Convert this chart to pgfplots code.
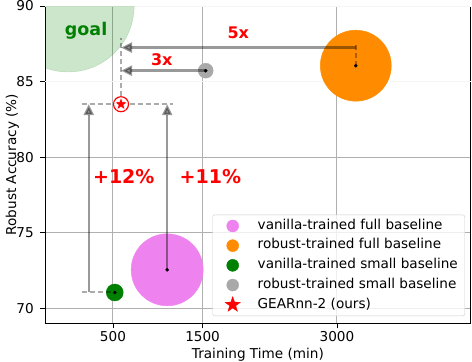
\documentclass[border=0pt]{standalone}
\usepackage{fontspec}
\setmainfont{DejaVu Sans}
\usepackage{pgfplots}
\pgfplotsset{compat=1.18}
\usetikzlibrary{arrows.meta}

\definecolor{cviolet}{HTML}{EE82EE}
\definecolor{corange}{HTML}{FF8C00}
\definecolor{cgreen}{HTML}{008000}
\definecolor{cgray}{HTML}{A9A9A9}
\definecolor{cgrid}{HTML}{B0B0B0}

% filled five-point star
\pgfdeclareplotmark{fstar}{%
  \pgfpathmoveto{\pgfpointpolar{90}{\pgfplotmarksize}}%
  \pgfpathlineto{\pgfpointpolar{126}{0.4*\pgfplotmarksize}}%
  \pgfpathlineto{\pgfpointpolar{162}{\pgfplotmarksize}}%
  \pgfpathlineto{\pgfpointpolar{198}{0.4*\pgfplotmarksize}}%
  \pgfpathlineto{\pgfpointpolar{234}{\pgfplotmarksize}}%
  \pgfpathlineto{\pgfpointpolar{270}{0.4*\pgfplotmarksize}}%
  \pgfpathlineto{\pgfpointpolar{306}{\pgfplotmarksize}}%
  \pgfpathlineto{\pgfpointpolar{342}{0.4*\pgfplotmarksize}}%
  \pgfpathlineto{\pgfpointpolar{18}{\pgfplotmarksize}}%
  \pgfpathlineto{\pgfpointpolar{54}{0.4*\pgfplotmarksize}}%
  \pgfpathclose
  \pgfusepathqfillstroke}

\newcommand{\fs}{\fontsize{13.6}{16}\selectfont}

\tikzset{
  arr/.style={black, opacity=0.4, line width=2.5pt, -{Triangle[length=11pt,width=10pt]}},
  dsh/.style={black, opacity=0.33, line width=2pt, dash pattern=on 5pt off 3pt},
}

\begin{document}
\begin{tikzpicture}
\begin{axis}[
    scale only axis,
    width=425.2pt, height=317.3pt,
    xmin=-255, xmax=4490, ymin=69, ymax=90,
    xtick={500,1500,3000},
    ytick={70,75,80},
    extra y ticks={85,90},
    extra y tick style={grid style={cgrid!12, line width=1pt}},
    grid=major,
    grid style={cgrid, line width=1pt},
    tick align=outside,
    xtick pos=lower, ytick pos=left,
    major tick length=5pt,
    tick style={black, line width=0.9pt},
    axis line style={line width=1pt},
    clip marker paths=true,
    /pgf/number format/assume math mode=true,
    /pgf/number format/1000 sep={},
    tick label style={font=\fs},
    yticklabel style={xshift=-3pt},
    xlabel={Training Time (min)},
    ylabel={Robust Accuracy (\%)},
    every axis x label/.style={at={(axis description cs:0.5,0)}, anchor=center, yshift=-31pt, font=\fs},
    every axis y label/.style={at={(axis description cs:0,0.5)}, xshift=-33pt, rotate=90, anchor=center, font=\fs},
    legend cell align=left,
    legend image code/.code={%
        \path[draw=none, fill=none] (-16pt,-6pt) rectangle (17pt,6pt);
        \draw[mark repeat=2, mark phase=2, #1, opacity=1, fill opacity=1, draw opacity=1]
            plot coordinates {(-1pt,0pt) (0pt,0pt) (1pt,0pt)};},
    legend style={at={(0.987,0.023)}, anchor=south east,
        draw=black!20, fill=white, fill opacity=0.8, text opacity=1,
        rounded corners=2pt, inner xsep=4pt, inner ysep=1.2pt,
        font=\fs, column sep=5pt,
        nodes={inner ysep=3.6pt, inner xsep=3pt, text height=9.5pt, text depth=3pt}},
]
% goal region
\addplot[only marks, mark=*, mark size=66pt, forget plot, cgreen, opacity=0.2]
    coordinates {(0,90)};
% baselines
\addplot[only marks, mark=*, mark size=36pt, forget plot, cviolet] coordinates {(1105,72.54)};
\addplot[only marks, mark=*, mark size=35.5pt, forget plot, corange] coordinates {(3210,86.05)};
\addplot[only marks, mark=*, mark size=8.5pt, forget plot, cgreen] coordinates {(520,71.04)};
\addplot[only marks, mark=*, mark size=7.5pt, forget plot, cgray] coordinates {(1535,85.72)};
\addplot[only marks, mark=*, mark size=1.6pt, black, forget plot]
    coordinates {(1105,72.54) (3210,86.05) (520,71.04) (1535,85.72)};

% guides and arrows
\addplot[dsh, forget plot] coordinates {(3210,86.05) (3210,87.5)};
\addplot[dsh, forget plot] coordinates {(590,83.5) (590,87.9)};
\addplot[dsh, forget plot] coordinates {(150,83.5) (1170,83.5)};
\addplot[dsh, forget plot] coordinates {(150,71.04) (520,71.04)};
\addplot[arr, forget plot] coordinates {(3210,87.25) (590,87.25)};
\addplot[arr, forget plot] coordinates {(1535,85.72) (590,85.72)};
\addplot[arr, forget plot] coordinates {(230,71.04) (230,83.5)};
\addplot[arr, forget plot] coordinates {(1105,72.54) (1105,83.5)};

% ours
\addplot[only marks, mark=*, mark size=7.5pt, forget plot,
    mark options={draw=red, fill=white, line width=1.2pt}] coordinates {(590,83.5)};
\addplot[only marks, mark=fstar, mark size=7pt, forget plot,
    mark options={draw=white, fill=red, line width=0.5pt}] coordinates {(590,83.5)};

\node[text=cgreen, font=\bfseries\fontsize{17.5}{18}\selectfont, anchor=base] at (axis cs:200,88.04) {goal};
\node[text=red, font=\bfseries\fontsize{16}{18}\selectfont, anchor=base] at (axis cs:1898,87.82) {5x};
\node[text=red, font=\bfseries\fontsize{16}{18}\selectfont, anchor=base] at (axis cs:1045,86.07) {3x};
\node[text=red, font=\bfseries\fontsize{19}{20}\selectfont, anchor=base] at (axis cs:621,78.27) {+12\%};
\node[text=red, font=\bfseries\fontsize{19}{20}\selectfont, anchor=base] at (axis cs:1587,78.27) {+11\%};

\addlegendimage{only marks, mark=*, mark size=6pt, cviolet}
\addlegendentry{vanilla-trained full baseline}
\addlegendimage{only marks, mark=*, mark size=6pt, corange}
\addlegendentry{robust-trained full baseline}
\addlegendimage{only marks, mark=*, mark size=6pt, cgreen}
\addlegendentry{vanilla-trained small baseline}
\addlegendimage{only marks, mark=*, mark size=6pt, cgray}
\addlegendentry{robust-trained small baseline}
\addlegendimage{only marks, mark=fstar, mark size=8pt, red}
\addlegendentry{GEARnn-2 (ours)}
\end{axis}
\pgfresetboundingbox
\path[use as bounding box] ([shift={(-45.3pt,-38.7pt)}]current axis.south west)
    rectangle ([shift={(1.5pt,6pt)}]current axis.north east);
\end{tikzpicture}
\end{document}
